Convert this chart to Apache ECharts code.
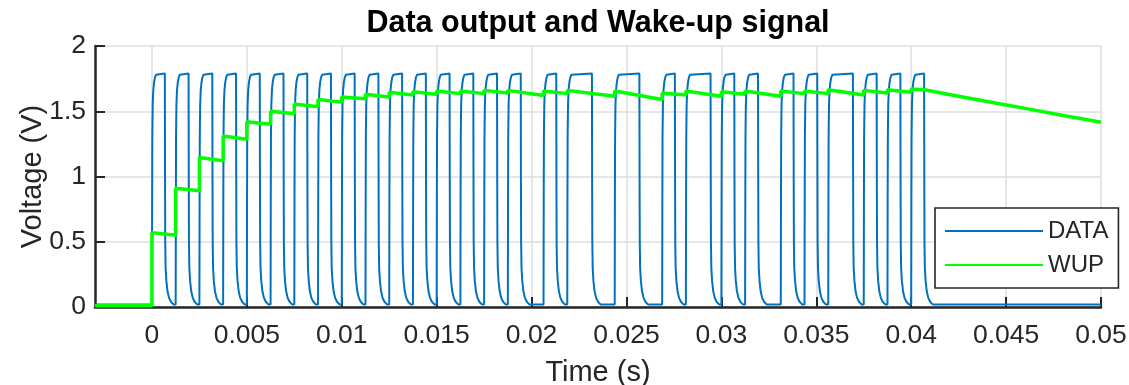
<!DOCTYPE html>
<html>
<head>
<meta charset="utf-8">
<script src="https://cdn.jsdelivr.net/npm/echarts@6/dist/echarts.min.js"></script>
<style>
html,body{margin:0;padding:0;background:#fff;}
#chart{width:1129px;height:385px;}
</style>
</head>
<body>
<div id="chart"></div>
<script>
// ---- data ----
const xTicks = [0, 0.005, 0.01, 0.015, 0.02, 0.025, 0.03, 0.035, 0.04, 0.045, 0.05];
const yTicks = [0, 0.5, 1, 1.5, 2];

// DATA rising / falling edge times (s)
const dataRise = [0.00000, 0.00125, 0.00250, 0.00375, 0.00500, 0.00625, 0.00750, 0.00875,
  0.01000, 0.01125, 0.01250, 0.01375, 0.01500, 0.01625, 0.01750, 0.01875,
  0.02063, 0.02188, 0.02438, 0.02688, 0.02813, 0.03000, 0.03125, 0.03313,
  0.03438, 0.03563, 0.03750, 0.03875, 0.04000];
const dataFall = [0.00068, 0.00193, 0.00318, 0.00443, 0.00568, 0.00693, 0.00818, 0.00943,
  0.01068, 0.01193, 0.01318, 0.01443, 0.01568, 0.01693, 0.01818, 0.01943,
  0.02130, 0.02318, 0.02568, 0.02755, 0.02943, 0.03068, 0.03193, 0.03380,
  0.03505, 0.03693, 0.03818, 0.03943, 0.04068];
const dataLow = 0.02;
// edge shapes: [offset in ms, volts]
const riseShape = [[0, 0.02], [0.01, 0.8], [0.02, 1.3], [0.04, 1.55], [0.07, 1.66], [0.11, 1.72], [0.16, 1.76], [0.22, 1.78]];
const fallShape = [[0, 1.79], [0.01, 1.0], [0.02, 0.5], [0.04, 0.3], [0.08, 0.2], [0.14, 0.12], [0.22, 0.07], [0.32, 0.04], [0.45, 0.02]];

// WUP level just after each DATA rise, and just before the next rise
const wupPre = 0.01;
const wupHi = [0.57, 0.91, 1.145, 1.31, 1.42, 1.50, 1.555, 1.59, 1.61, 1.63, 1.645, 1.65, 1.655, 1.655,
  1.66, 1.66, 1.655, 1.66, 1.655, 1.64, 1.655, 1.65, 1.655, 1.655, 1.655, 1.665, 1.66, 1.665, 1.67];
const wupLo = [0.55, 0.89, 1.12, 1.285, 1.40, 1.48, 1.535, 1.57, 1.595, 1.61, 1.625, 1.63, 1.635, 1.635,
  1.64, 1.62, 1.635, 1.615, 1.59, 1.625, 1.615, 1.63, 1.615, 1.635, 1.635, 1.625, 1.64, 1.645];
const wupTailT = [0.0407, 0.042, 0.043, 0.044, 0.045, 0.046, 0.047, 0.048, 0.049, 0.050];
const wupTailV = [1.665, 1.628, 1.602, 1.575, 1.548, 1.522, 1.495, 1.468, 1.442, 1.415];

const xMin = -0.003, xMax = 0.05;

// ---- build series points ----
const dataPts = [[xMin, dataLow]];
for (let i = 0; i < dataRise.length; i++) {
  const r = dataRise[i], f = dataFall[i];
  riseShape.forEach(p => dataPts.push([r + p[0] / 1000, p[1]]));
  dataPts.push([f, fallShape[0][1]]);
  fallShape.slice(1).forEach(p => dataPts.push([f + p[0] / 1000, p[1]]));
}
dataPts.push([xMax, dataLow]);

const wupPts = [[xMin, wupPre]];
for (let i = 0; i < dataRise.length; i++) {
  const prev = i === 0 ? wupPre : wupLo[i - 1];
  wupPts.push([dataRise[i], prev]);
  wupPts.push([dataRise[i], wupHi[i]]);
  if (i < wupLo.length) wupPts.push([dataRise[i + 1], wupLo[i]]);
}
wupTailT.forEach((t, i) => wupPts.push([t, wupTailV[i]]));

const txt = '#262626';
const font = 'Liberation Sans';
const chart = echarts.init(document.getElementById('chart'), null, {renderer: 'canvas'});
chart.setOption({
  animation: false,
  backgroundColor: '#ffffff',
  title: {
    text: 'Data output and Wake-up signal',
    left: 598, top: 8, padding: 0, textAlign: 'center',
    textStyle: {fontFamily: font, fontWeight: 'bold', fontSize: 30.5, color: '#000'}
  },
  legend: {
    orient: 'vertical', left: 935, top: 208,
    padding: [11, 10, 11, 10], itemGap: 10, itemWidth: 98, itemHeight: 2,
    backgroundColor: '#fff', borderColor: txt, borderWidth: 1.6, borderRadius: 0,
    textStyle: {fontFamily: font, fontSize: 24, color: txt},
    data: [{name: 'DATA', icon: 'rect'}, {name: 'WUP', icon: 'rect'}]
  },
  grid: {left: 95, right: 28, top: 46, bottom: 78, containLabel: false, outerBoundsMode: 'none'},
  xAxis: {
    type: 'value', min: xMin, max: xMax,
    name: 'Time (s)', nameLocation: 'middle', nameGap: 51, nameMoveOverlap: false,
    nameTextStyle: {fontFamily: font, fontSize: 29, color: txt},
    axisLine: {show: true, onZero: false, lineStyle: {color: txt, width: 2.5}},
    axisTick: {show: true, inside: true, length: 10, lineStyle: {color: txt, width: 2}, customValues: xTicks},
    axisLabel: {fontFamily: font, fontSize: 26.5, color: txt, margin: 15, customValues: xTicks},
    splitLine: {show: true, lineStyle: {color: '#dedede', width: 1.5}}
  },
  yAxis: {
    type: 'value', min: 0, max: 2, interval: 0.5,
    name: 'Voltage (V)', nameLocation: 'middle', nameGap: 48, nameMoveOverlap: false,
    nameTextStyle: {fontFamily: font, fontSize: 29, color: txt},
    axisLine: {show: true, onZero: false, lineStyle: {color: txt, width: 2.5}},
    axisTick: {show: true, inside: true, length: 10, lineStyle: {color: txt, width: 2}},
    axisLabel: {fontFamily: font, fontSize: 26.5, color: txt, margin: 9,
      formatter: v => (yTicks.indexOf(v) >= 0 ? String(v) : '')},
    splitLine: {show: true, lineStyle: {color: '#dedede', width: 1.5}}
  },
  series: [
    {name: 'DATA', type: 'line', data: dataPts, showSymbol: false, symbol: 'none',
      lineStyle: {color: '#0072BD', width: 2}, itemStyle: {color: '#0072BD'}, z: 2},
    {name: 'WUP', type: 'line', data: wupPts, showSymbol: false, symbol: 'none',
      lineStyle: {color: '#00FF00', width: 3.5}, itemStyle: {color: '#00FF00'}, z: 3}
  ]
});
</script>
</body>
</html>
